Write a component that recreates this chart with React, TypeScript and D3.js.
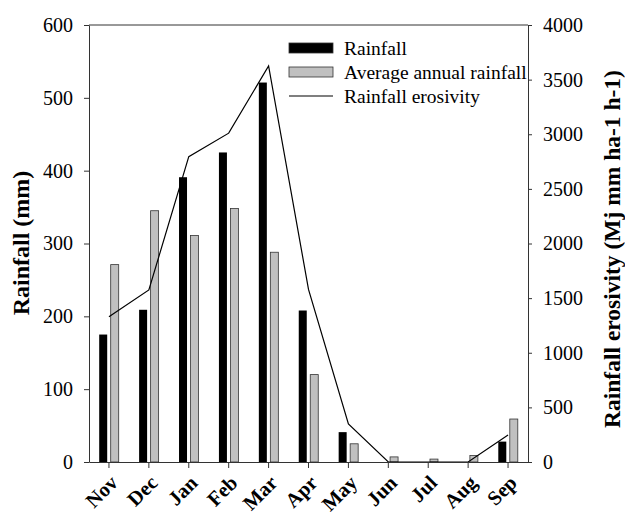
import { useRef, useEffect } from "react";
import * as d3 from "d3";

const months = ["Nov", "Dec", "Jan", "Feb", "Mar", "Apr", "May", "Jun", "Jul", "Aug", "Sep"];
const rainfall = [175, 209, 391, 425, 521, 208, 41, 0, 0, 0, 28];
const avgRainfall = [271, 345, 311, 348, 288, 120, 25, 7, 4, 9, 59];
const erosivity = [1330, 1575, 2795, 3010, 3625, 1580, 348, 0, 0, 0, 247];
const leftTicks = [0, 100, 200, 300, 400, 500, 600];
const rightTicks = [0, 500, 1000, 1500, 2000, 2500, 3000, 3500, 4000];

const W = 625;
const H = 514;
const MARGIN = { top: 25, right: 97, bottom: 52, left: 89 };
const FONT = "'Liberation Serif', 'Times New Roman', serif";

export default function App() {
  const svgRef = useRef<SVGSVGElement>(null);

  useEffect(() => {
    if (!svgRef.current) return;
    const svg = d3.select(svgRef.current);
    svg.selectAll("*").remove();

    const innerW = W - MARGIN.left - MARGIN.right;
    const innerH = H - MARGIN.top - MARGIN.bottom;
    const g = svg.append("g").attr("transform", `translate(${MARGIN.left},${MARGIN.top})`);

    const x = d3.scaleBand().domain(months).range([0, innerW]);
    const yL = d3.scaleLinear().domain([0, 600]).range([innerH, 0]);
    const yR = d3.scaleLinear().domain([0, 4000]).range([innerH, 0]);

    const barW = 8;
    const gap = 3.5;
    const center = (m: string) => (x(m) as number) + x.bandwidth() / 2;

    // bars
    g.selectAll(".bar-rain")
      .data(months)
      .join("rect")
      .attr("x", (m) => center(m) - gap / 2 - barW)
      .attr("y", (_, i) => yL(rainfall[i]))
      .attr("width", barW)
      .attr("height", (_, i) => innerH - yL(rainfall[i]))
      .attr("fill", "#000");

    g.selectAll(".bar-avg")
      .data(months)
      .join("rect")
      .attr("x", (m) => center(m) + gap / 2)
      .attr("y", (_, i) => yL(avgRainfall[i]))
      .attr("width", barW)
      .attr("height", (_, i) => innerH - yL(avgRainfall[i]))
      .attr("fill", "#c0c0c0")
      .attr("stroke", "#333")
      .attr("stroke-width", 0.8);

    // erosivity line
    const line = d3
      .line<number>()
      .x((_, i) => center(months[i]))
      .y((d) => yR(d));
    g.append("path")
      .datum(erosivity)
      .attr("d", line)
      .attr("fill", "none")
      .attr("stroke", "#000")
      .attr("stroke-width", 1.2);

    // frame
    g.append("line")
      .attr("x1", 0).attr("x2", innerW).attr("y1", 0).attr("y2", 0)
      .attr("stroke", "#333");

    // axes
    const styleAxis = (sel: d3.Selection<SVGGElement, unknown, null, undefined>) => {
      sel.attr("font-family", null);
      sel.select(".domain").attr("stroke", "#333");
      sel.selectAll(".tick line").attr("stroke", "#333");
      sel.selectAll("text").attr("fill", "#000").style("font-family", FONT);
    };

    const xAxis = g
      .append("g")
      .attr("transform", `translate(0,${innerH})`)
      .call(d3.axisBottom(x).tickSize(6).tickSizeOuter(0));
    styleAxis(xAxis);
    xAxis
      .selectAll("text")
      .attr("text-anchor", "end")
      .attr("dy", "0.35em")
      .attr("transform", "translate(5,17) rotate(-45)")
      .attr("y", 0)
      .attr("x", 0)
      .style("font-size", "20.5px")
      .style("font-weight", "bold");

    const leftAxis = g
      .append("g")
      .call(
        d3.axisLeft(yL).tickValues(leftTicks).tickFormat(d3.format("d")).tickSize(5).tickSizeOuter(0).tickPadding(11)
      );
    styleAxis(leftAxis);
    leftAxis.selectAll("text").style("font-size", "20px");

    const rightAxis = g
      .append("g")
      .attr("transform", `translate(${innerW},0)`)
      .call(
        d3.axisRight(yR).tickValues(rightTicks).tickFormat(d3.format("d")).tickSize(4).tickSizeOuter(0).tickPadding(11)
      );
    styleAxis(rightAxis);
    rightAxis.selectAll("text").style("font-size", "20px");

    // axis titles
    svg.append("text")
      .attr("transform", `translate(29,243) rotate(-90)`)
      .attr("text-anchor", "middle")
      .style("font-family", FONT)
      .style("font-size", "24px")
      .style("font-weight", "bold")
      .text("Rainfall (mm)");

    svg.append("text")
      .attr("transform", `translate(620,249) rotate(-90)`)
      .attr("text-anchor", "middle")
      .style("font-family", FONT)
      .style("font-size", "23.5px")
      .style("font-weight", "bold")
      .text("Rainfall erosivity (Mj mm ha-1 h-1)");

    // legend
    const legend = svg.append("g").attr("transform", "translate(289,43)");
    const items = [
      { label: "Rainfall", kind: "black" },
      { label: "Average annual rainfall", kind: "grey" },
      { label: "Rainfall erosivity", kind: "line" },
    ];
    items.forEach((it, i) => {
      const row = legend.append("g").attr("transform", `translate(0,${i * 24})`);
      if (it.kind === "line") {
        row.append("line")
          .attr("x1", 0).attr("x2", 44).attr("y1", 5).attr("y2", 5)
          .attr("stroke", "#000").attr("stroke-width", 1.2);
      } else {
        row.append("rect")
          .attr("x", 0).attr("y", 0).attr("width", 44).attr("height", 10)
          .attr("fill", it.kind === "black" ? "#000" : "#c0c0c0")
          .attr("stroke", "#333").attr("stroke-width", 0.8);
      }
      row.append("text")
        .attr("x", 55).attr("y", 12)
        .style("font-family", FONT)
        .style("font-size", "19.5px")
        .text(it.label);
    });
  }, []);

  return (
    <svg
      ref={svgRef}
      width={W}
      height={H}
      style={{ position: "absolute", left: 0, top: 0, background: "#fff" }}
    />
  );
}
